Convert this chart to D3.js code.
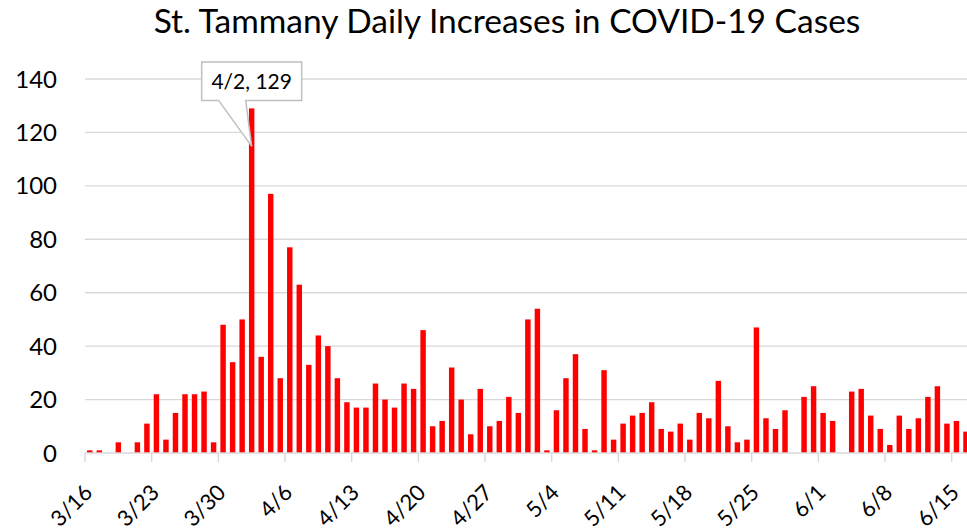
<!DOCTYPE html>
<html>
<head>
<meta charset="utf-8">
<script src="https://cdn.jsdelivr.net/npm/d3@7"></script>
<style>
  body { margin: 0; background: #fff; }
  svg { display: block; font-family: Lato, "Open Sans", sans-serif; }
</style>
</head>
<body>
<div id="chartContainer"></div>
<script>
var chartTitle = "St. Tammany Daily Increases in COVID-19 Cases"

var days = [
  "3/16","3/17","3/18","3/19","3/20","3/21","3/22",
  "3/23","3/24","3/25","3/26","3/27","3/28","3/29",
  "3/30","3/31","4/1","4/2","4/3","4/4","4/5",
  "4/6","4/7","4/8","4/9","4/10","4/11","4/12",
  "4/13","4/14","4/15","4/16","4/17","4/18","4/19",
  "4/20","4/21","4/22","4/23","4/24","4/25","4/26",
  "4/27","4/28","4/29","4/30","5/1","5/2","5/3",
  "5/4","5/5","5/6","5/7","5/8","5/9","5/10",
  "5/11","5/12","5/13","5/14","5/15","5/16","5/17",
  "5/18","5/19","5/20","5/21","5/22","5/23","5/24",
  "5/25","5/26","5/27","5/28","5/29","5/30","5/31",
  "6/1","6/2","6/3","6/4","6/5","6/6","6/7",
  "6/8","6/9","6/10","6/11","6/12","6/13","6/14",
  "6/15","6/16"
]

var newCases = [
  1, 1, 0, 4, 0, 4, 11,
  22, 5, 15, 22, 22, 23, 4,
  48, 34, 50, 129, 36, 97, 28,
  77, 63, 33, 44, 40, 28, 19,
  17, 17, 26, 20, 17, 26, 24,
  46, 10, 12, 32, 20, 7, 24,
  10, 12, 21, 15, 50, 54, 1,
  16, 28, 37, 9, 1, 31, 5,
  11, 14, 15, 19, 9, 8, 11,
  5, 15, 13, 27, 10, 4, 5,
  47, 13, 9, 16, 0, 21, 25,
  15, 12, 0, 23, 24, 14, 9,
  3, 14, 9, 13, 21, 25, 11,
  12, 8
]

var yTicks = [0, 20, 40, 60, 80, 100, 120, 140]
var xTickLabels = ["3/16","3/23","3/30","4/6","4/13","4/20","4/27","5/4","5/11","5/18","5/25","6/1","6/8","6/15"]
var calloutDay = "4/2"

var width = 967, height = 531
var margin = { left: 85, top: 79, bottom: 78 }
// plot runs a little past the right edge of the picture
var plotRight = 85 + 9.524 * days.length

var data = days.map(function(d, i) { return { day: d, val: newCases[i] } })

var svg = d3.select('#chartContainer').append('svg')
    .attr('width', width)
    .attr('height', height)

var xScale = d3.scaleBand()
    .domain(days)
    .range([margin.left, plotRight])
    .paddingInner(0.4286)
    .paddingOuter(0.2143)

var yScale = d3.scaleLinear()
    .domain([0, 140])
    .range([height - margin.bottom, margin.top])

var gap = (xScale.step() - xScale.bandwidth()) / 2

// gridlines
svg.selectAll('.grid')
    .data(yTicks.filter(function(t) { return t > 0 }))
    .enter()
    .append('line')
    .attr('class', 'grid')
    .attr('x1', margin.left)
    .attr('x2', plotRight)
    .attr('y1', function(d) { return yScale(d) })
    .attr('y2', function(d) { return yScale(d) })
    .style('stroke', '#d9d9d9')
    .style('stroke-width', 1.33)

// y labels
svg.selectAll('.ylab')
    .data(yTicks)
    .enter()
    .append('text')
    .attr('class', 'ylab')
    .attr('x', 57)
    .attr('y', function(d) { return yScale(d) })
    .attr('dy', '0.36em')
    .attr('text-anchor', 'end')
    .style('font-size', '24px')
    .style('fill', '#000')
    .text(function(d) { return d })

// bars
svg.selectAll('.bar')
    .data(data)
    .enter()
    .append('rect')
    .attr('class', 'bar')
    .attr('x', function(d) { return xScale(d.day) })
    .attr('width', xScale.bandwidth())
    .attr('y', function(d) { return yScale(d.val) })
    .attr('height', function(d) { return yScale(0) - yScale(d.val) })
    .style('fill', '#ff0000')

// x axis line and tick marks
var y0 = yScale(0)
svg.append('line')
    .attr('x1', margin.left)
    .attr('x2', plotRight)
    .attr('y1', y0)
    .attr('y2', y0)
    .style('stroke', '#d9d9d9')
    .style('stroke-width', 1.5)

svg.selectAll('.xtick')
    .data(xTickLabels)
    .enter()
    .append('line')
    .attr('class', 'xtick')
    .attr('x1', function(d) { return xScale(d) - gap })
    .attr('x2', function(d) { return xScale(d) - gap })
    .attr('y1', y0)
    .attr('y2', y0 + 9)
    .style('stroke', '#d9d9d9')
    .style('stroke-width', 1.5)

svg.selectAll('.xlab')
    .data(xTickLabels)
    .enter()
    .append('text')
    .attr('class', 'xlab')
    .attr('text-anchor', 'end')
    .attr('transform', function(d) {
        var cx = xScale(d) + xScale.bandwidth() / 2
        return 'translate(' + (cx + 4) + ',' + (y0 + 41) + ') rotate(-45)'
    })
    .style('font-size', '22px')
    .style('fill', '#000')
    .text(function(d) { return d })

// title
svg.append('text')
    .attr('x', 507)
    .attr('y', 33)
    .attr('text-anchor', 'middle')
    .style('font-size', '33.5px')
    .style('fill', '#000')
    .text(chartTitle)

// callout for the peak
var peakVal = newCases[days.indexOf(calloutDay)]
var px = xScale(calloutDay) + xScale.bandwidth() / 2
var tipY = yScale(peakVal) + 38
var boxTop = yScale(peakVal) - 46.5, boxBot = boxTop + 38.5
var callout = svg.append('g')

callout.append('path')
    .attr('d', 'M' + (px - 50) + ',' + boxTop +
               'H' + (px + 50) + 'V' + boxBot +
               'H' + (px - 6) + 'L' + px + ',' + tipY +
               'L' + (px - 33) + ',' + boxBot +
               'H' + (px - 50) + 'Z')
    .style('fill', '#fff')
    .style('stroke', '#bfbfbf')
    .style('stroke-width', 1.5)

callout.append('text')
    .attr('x', px)
    .attr('y', boxTop + 27)
    .attr('text-anchor', 'middle')
    .style('font-size', '21px')
    .style('fill', '#000')
    .text(calloutDay + ', ' + peakVal)
</script>
</body>
</html>
